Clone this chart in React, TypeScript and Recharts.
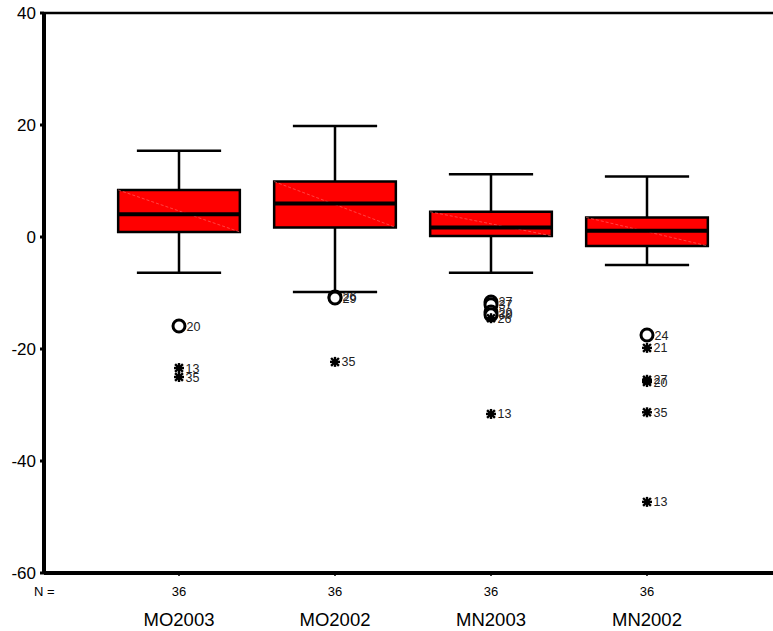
import React from "react";
import {
  ComposedChart,
  XAxis,
  YAxis,
  Scatter,
  ReferenceArea,
  ReferenceLine,
  Customized,
} from "recharts";

const FONT = "'Liberation Sans', Arial, sans-serif";

// Box plot summary per variable
const categories = ["MO2003", "MO2002", "MN2003", "MN2002"];
const counts = [36, 36, 36, 36];
const whiskerLow = [-6.4, -9.8, -6.4, -5.0];
const q1 = [0.9, 1.7, 0.2, -1.6];
const median = [4.05, 6.0, 1.7, 1.1];
const q3 = [8.4, 9.9, 4.5, 3.5];
const whiskerHigh = [15.4, 19.8, 11.2, 10.8];

// Outliers (open circles) and extremes (asterisks) with case ids
const circleCat = [1, 2, 2, 3, 3, 3, 3, 4];
const circleVal = [-15.9, -10.7, -10.9, -11.6, -12.1, -13.4, -13.9, -17.5];
const circleId = ["20", "26", "29", "27", "37", "29", "30", "24"];

const starCat = [1, 1, 2, 3, 3, 4, 4, 4, 4, 4];
const starVal = [-23.4, -25.0, -22.3, -14.5, -31.6, -19.8, -25.5, -25.9, -31.3, -47.3];
const starId = ["13", "35", "35", "26", "13", "21", "27", "20", "35", "13"];

const yTicks = [-60, -40, -20, 0, 20, 40];

const circleData = circleCat.map((c, i) => ({ x: c, y: circleVal[i], id: circleId[i] }));
const starData = starCat.map((c, i) => ({ x: c, y: starVal[i], id: starId[i] }));

const BOX_HALF = 0.39;
const CAP_HALF = 0.27;

const CircleMark = (props: any) => {
  const { cx, cy, payload } = props;
  return (
    <g>
      <circle cx={cx} cy={cy} r={6} fill="#fff" stroke="#000" strokeWidth={3} />
      <text x={cx + 7.5} y={cy + 4.5} fontSize={12.5} fontFamily={FONT} fill="#222">
        {payload.id}
      </text>
    </g>
  );
};

const StarMark = (props: any) => {
  const { cx, cy, payload } = props;
  const r = 5;
  const d = r * 0.78;
  const w = 2.4;
  return (
    <g>
      <line x1={cx - r} y1={cy} x2={cx + r} y2={cy} stroke="#000" strokeWidth={w} />
      <line x1={cx} y1={cy - r} x2={cx} y2={cy + r} stroke="#000" strokeWidth={w} />
      <line x1={cx - d} y1={cy - d} x2={cx + d} y2={cy + d} stroke="#000" strokeWidth={w} />
      <line x1={cx - d} y1={cy + d} x2={cx + d} y2={cy - d} stroke="#000" strokeWidth={w} />
      <text x={cx + 6.5} y={cy + 4.5} fontSize={12.5} fontFamily={FONT} fill="#222">
        {payload.id}
      </text>
    </g>
  );
};

const CategoryTick = (props: any) => {
  const { x, y, payload } = props;
  const i = Math.round(payload.value) - 1;
  return (
    <g>
      <text x={x} y={y + 18} textAnchor="middle" fontSize={13} fontFamily={FONT} fill="#000">
        {counts[i]}
      </text>
      <text x={x} y={y + 48} textAnchor="middle" fontSize={18.5} fontFamily={FONT} fill="#000">
        {categories[i]}
      </text>
    </g>
  );
};

const NLabel = () => (
  <text x={34} y={596} fontSize={13} fontFamily={FONT} fill="#000">
    N =
  </text>
);

export default function App() {
  return (
    <div style={{ position: "absolute", left: 0, top: 0, background: "#fff" }}>
      <ComposedChart
        width={773}
        height={631}
        margin={{ top: 13, right: 0, bottom: 0, left: 0 }}
      >
        <XAxis
          type="number"
          dataKey="x"
          domain={[0.1346, 4.8077]}
          ticks={[1, 2, 3, 4]}
          interval={0}
          allowDataOverflow
          height={58}
          axisLine={{ stroke: "#000", strokeWidth: 4 }}
          tickLine={{ stroke: "#000", strokeWidth: 1.5 }}
          tickSize={3}
          tickMargin={2}
          tick={<CategoryTick />}
        />
        <YAxis
          type="number"
          dataKey="y"
          domain={[-60, 40]}
          ticks={yTicks}
          interval={0}
          allowDataOverflow
          width={44}
          axisLine={{ stroke: "#000", strokeWidth: 4 }}
          tickLine={{ stroke: "#000", strokeWidth: 3 }}
          tickSize={4}
          tickMargin={4}
          tick={{ fill: "#000", fontSize: 17, fontFamily: FONT }}
        />
        <ReferenceLine y={40} stroke="#000" strokeWidth={2.5} />

        {categories.map((_, i) => {
          const c = i + 1;
          return (
            <ReferenceLine
              key={`wu${i}`}
              segment={[{ x: c, y: q3[i] }, { x: c, y: whiskerHigh[i] }]}
              stroke="#000"
              strokeWidth={2.5}
            />
          );
        })}
        {categories.map((_, i) => {
          const c = i + 1;
          return (
            <ReferenceLine
              key={`wl${i}`}
              segment={[{ x: c, y: q1[i] }, { x: c, y: whiskerLow[i] }]}
              stroke="#000"
              strokeWidth={2.5}
            />
          );
        })}
        {categories.map((_, i) => {
          const c = i + 1;
          return (
            <ReferenceLine
              key={`cu${i}`}
              segment={[{ x: c - CAP_HALF, y: whiskerHigh[i] }, { x: c + CAP_HALF, y: whiskerHigh[i] }]}
              stroke="#000"
              strokeWidth={2.5}
            />
          );
        })}
        {categories.map((_, i) => {
          const c = i + 1;
          return (
            <ReferenceLine
              key={`cl${i}`}
              segment={[{ x: c - CAP_HALF, y: whiskerLow[i] }, { x: c + CAP_HALF, y: whiskerLow[i] }]}
              stroke="#000"
              strokeWidth={2.5}
            />
          );
        })}

        {categories.map((_, i) => {
          const c = i + 1;
          return (
            <ReferenceArea
              key={`box${i}`}
              x1={c - BOX_HALF}
              x2={c + BOX_HALF}
              y1={q1[i]}
              y2={q3[i]}
              fill="#ff0000"
              fillOpacity={1}
              stroke="#000"
              strokeWidth={2.5}
            />
          );
        })}
        {categories.map((_, i) => {
          const c = i + 1;
          return (
            <ReferenceLine
              key={`diag${i}`}
              segment={[{ x: c - BOX_HALF, y: q3[i] }, { x: c + BOX_HALF, y: q1[i] }]}
              stroke="#ff7070"
              strokeWidth={0.6}
              strokeDasharray="3 2"
            />
          );
        })}
        {categories.map((_, i) => {
          const c = i + 1;
          return (
            <ReferenceLine
              key={`med${i}`}
              segment={[{ x: c - BOX_HALF, y: median[i] }, { x: c + BOX_HALF, y: median[i] }]}
              stroke="#000"
              strokeWidth={4}
            />
          );
        })}

        <Scatter data={circleData} dataKey="y" shape={CircleMark} isAnimationActive={false} />
        <Scatter data={starData} dataKey="y" shape={StarMark} isAnimationActive={false} />
        <Customized component={NLabel} />
      </ComposedChart>
    </div>
  );
}
